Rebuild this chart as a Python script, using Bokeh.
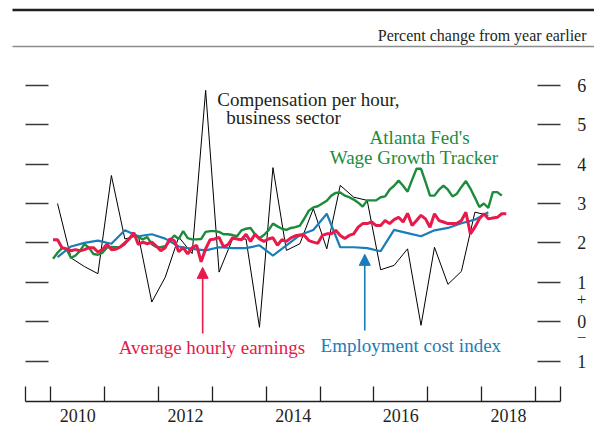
import numpy as np
from bokeh.plotting import figure
from bokeh.models import Range1d, LinearAxis, FixedTicker, Label, Arrow, NormalHead
from bokeh.embed import file_html
from bokeh.resources import INLINE

FONT = "Liberation Serif"
INK = "#231f20"
RED = "#E8194B"
GREEN = "#1A8C3C"
BLUE = "#1A7DB9"

# ---------------- data (percent change from year earlier) ----------------
# Average hourly earnings, monthly, Jan 2010 - Jun 2018
ahe = [2.08, 2.08, 1.88, 1.85, 1.80, 1.83, 1.80, 1.83, 1.88, 1.88, 1.77, 1.83,
       1.97, 1.83, 1.84, 1.90, 2.00, 2.10, 2.26, 1.96, 2.02, 1.98, 2.02, 1.92,
       1.80, 1.88, 2.10, 2.06, 1.78, 1.88, 1.72, 1.88, 1.94, 1.52, 1.85, 2.08,
       2.10, 2.14, 1.90, 1.96, 2.13, 2.10, 2.08, 2.22, 2.04, 2.22, 2.10, 2.04,
       2.10, 2.13, 1.94, 2.08, 2.04, 2.13, 2.18, 2.20, 2.19, 2.06, 2.02, 1.99,
       2.19, 2.23, 2.23, 2.32, 2.19, 2.11, 2.19, 2.23, 2.40, 2.49, 2.49, 2.53,
       2.44, 2.44, 2.57, 2.49, 2.59, 2.65, 2.53, 2.75, 2.44, 2.57, 2.70, 2.61,
       2.40, 2.74, 2.57, 2.53, 2.49, 2.49, 2.50, 2.57, 2.78, 2.23, 2.40, 2.61,
       2.74, 2.61, 2.63, 2.65, 2.74, 2.74]
# Atlanta Fed's Wage Growth Tracker, monthly, Jan 2010 - May 2018
wgt = [1.60, 1.75, 1.87, 1.85, 1.62, 1.68, 1.80, 1.97, 1.88, 1.72, 1.70, 1.75,
       1.88, 1.90, 1.89, 1.90, 1.97, 2.12, 2.20, 2.15, 2.09, 2.15, 1.97, 1.90,
       1.89, 1.92, 2.05, 2.19, 2.10, 2.30, 2.12, 2.09, 2.09, 2.10, 2.28, 2.30,
       2.30, 2.28, 2.22, 2.22, 2.20, 2.17, 2.32, 2.36, 2.38, 2.22, 2.12, 2.20,
       2.32, 2.49, 2.42, 2.36, 2.33, 2.38, 2.40, 2.44, 2.62, 2.82, 2.90, 2.93,
       3.00, 3.07, 3.20, 3.27, 3.28, 3.20, 3.16, 3.10, 3.02, 2.92, 3.08, 3.08,
       3.08, 3.16, 3.18, 3.35, 3.45, 3.58, 3.45, 3.30, 3.60, 3.88, 3.88, 3.55,
       3.20, 3.20, 3.35, 3.45, 3.35, 3.18, 3.25, 3.42, 3.57, 3.38, 3.15, 2.91,
       3.00, 2.89, 3.29, 3.29, 3.20]
# Employment cost index, quarterly, 2010Q1 - 2018Q1
eci = [1.64, 1.91, 2.00, 2.06, 1.98, 2.32, 2.17, 2.22, 2.11, 1.91, 1.85, 1.81,
       1.89, 1.87, 1.87, 1.94, 1.68, 1.94, 2.20, 2.33, 2.74, 1.89, 1.89, 1.87,
       1.79, 2.33, 2.25, 2.17, 2.32, 2.38, 2.50, 2.59, 2.78]
# Compensation per hour, business sector, quarterly, 2010Q1 - 2018Q1
comp = [3.00, 1.62, 1.40, 1.22, 3.71, 2.10, 2.19, 0.50, 1.13, 2.15, 1.73, 5.87,
        1.26, 2.10, 2.10, -0.14, 3.91, 1.81, 1.98, 2.87, 1.85, 3.46, 3.16, 3.08,
        1.32, 1.43, 1.85, -0.09, 1.89, 0.95, 1.28, 2.78, 2.70]

start_year = 2010
year_labels = [2010, 2012, 2014, 2016, 2018]
year_bounds = list(range(2010, 2020))
y_ticks = [-1, 0, 1, 2, 3, 4, 5, 6]
y_label_override = {-1: "1"}
unit_text = "Percent change from year earlier"

x_ahe = start_year + (np.arange(len(ahe)) + 0.5) / 12
x_wgt = start_year + (np.arange(len(wgt)) + 0.5) / 12
x_eci = start_year + (np.arange(len(eci)) * 3 + 1.5) / 12
x_comp = start_year + (np.arange(len(comp)) * 3 + 1.5) / 12

# ---------------- geometry ----------------
# The frame covers the whole canvas so nothing drawn outside the data area is clipped.
X0, X1 = 2009.53, 2019.46      # extent of the x axis
Y0 = -2.02                     # level of the x axis
PX_YR = 53.85                  # pixels per year
PX_PCT = 39.42                 # pixels per percentage point
W, H = 594, 425
AX_LEFT_PX, AX_BOTTOM_PX = 25.0, 400.9   # canvas position of (X0, Y0)
xr = Range1d(X0 - AX_LEFT_PX / PX_YR, X0 - AX_LEFT_PX / PX_YR + W / PX_YR)
yr = Range1d(Y0 - (H - AX_BOTTOM_PX) / PX_PCT, Y0 - (H - AX_BOTTOM_PX) / PX_PCT + H / PX_PCT)

def cx(px):   # canvas x pixel -> data x
    return xr.start + px / PX_YR

def cy(py):   # canvas y pixel (from top) -> data y
    return yr.end - py / PX_PCT

p = figure(width=W, height=H, x_range=xr, y_range=yr, min_border=0,
           toolbar_location=None, output_backend="svg",
           x_axis_type=None, y_axis_type=None, outline_line_color=None)

# header rules and unit text
p.segment(x0=[cx(12)], y0=[cy(9.5)], x1=[cx(W)], y1=[cy(9.5)], line_color=INK, line_width=2.6)
p.segment(x0=[cx(12)], y0=[cy(46)], x1=[cx(W)], y1=[cy(46)], line_color="#8c8c8c", line_width=1.6)
p.add_layout(Label(x=cx(586), y=cy(35), text=unit_text,
                   text_align="right", text_baseline="alphabetic", text_font=FONT,
                   text_font_size="16px", text_color=INK))

# x axis: year boundaries as tick marks, labels mid-year
xt = FixedTicker(ticks=[y + 0.5 for y in year_labels],
                 minor_ticks=[X0 + 0.004] + year_bounds + [X1 - 0.004])
xaxis = LinearAxis(ticker=xt, fixed_location=Y0, bounds=(X0, X1),
                   major_label_overrides={y + 0.5: str(y) for y in year_labels},
                   major_tick_in=0, major_tick_out=0,
                   minor_tick_in=15, minor_tick_out=0,
                   minor_tick_line_color=INK, minor_tick_line_width=1.3,
                   axis_line_color=INK, axis_line_width=1.4,
                   major_label_standoff=8,
                   major_label_text_font=FONT, major_label_text_font_size="18px",
                   major_label_text_color=INK)
p.add_layout(xaxis, "below")

yt = FixedTicker(ticks=y_ticks, minor_ticks=[])
ly = LinearAxis(ticker=yt, fixed_location=X0, axis_line_color=None,
                major_tick_in=23, major_tick_out=0, major_tick_line_color="#3a3a3a",
                major_tick_line_width=1.3, minor_tick_line_color=None,
                major_label_text_color=None)
p.add_layout(ly, "left")
ry = LinearAxis(ticker=yt, fixed_location=X1, axis_line_color=None,
                major_tick_in=23, major_tick_out=0, major_tick_line_color="#3a3a3a",
                major_tick_line_width=1.3, minor_tick_line_color=None,
                major_label_overrides=y_label_override, major_label_standoff=17,
                major_label_text_font=FONT, major_label_text_font_size="18px",
                major_label_text_color=INK)
p.add_layout(ry, "right")

for sign, yv in (("+", 0.56), ("\u2212", -0.40)):
    p.add_layout(Label(x=cx(581), y=yv, text=sign, text_align="center",
                       text_baseline="middle", text_font=FONT, text_font_size="17px",
                       text_color=INK))

# series
p.line(x_comp, comp, line_color="black", line_width=1.0)
p.line(x_eci, eci, line_color=BLUE, line_width=2.2)
p.line(x_wgt, wgt, line_color=GREEN, line_width=2.4)
p.line(x_ahe, ahe, line_color=RED, line_width=3.0)

# annotations
def lab(x, y, t, c):
    p.add_layout(Label(x=x, y=y, text=t, text_align="left", text_baseline="alphabetic",
                       text_font=FONT, text_font_size="19px", text_color=c))

lab(2013.09, 5.64, "Compensation per hour,", INK)
lab(2013.26, 5.18, "business sector", INK)
lab(2015.92, 4.68, "Atlanta Fed's", GREEN)
lab(2015.18, 4.16, "Wage Growth Tracker", GREEN)
lab(2011.26, -0.64, "Average hourly earnings", RED)
lab(2015.01, -0.60, "Employment cost index", BLUE)

p.add_layout(Arrow(end=NormalHead(size=11, fill_color=RED, line_color=RED, line_width=1),
                   x_start=2012.82, y_start=-0.30, x_end=2012.82, y_end=1.38,
                   line_color=RED, line_width=1.6))
p.add_layout(Arrow(end=NormalHead(size=11, fill_color=BLUE, line_color=BLUE, line_width=1),
                   x_start=2015.83, y_start=-0.22, x_end=2015.83, y_end=1.71,
                   line_color=BLUE, line_width=1.6))

open("out.html", "w").write(file_html(p, INLINE))
